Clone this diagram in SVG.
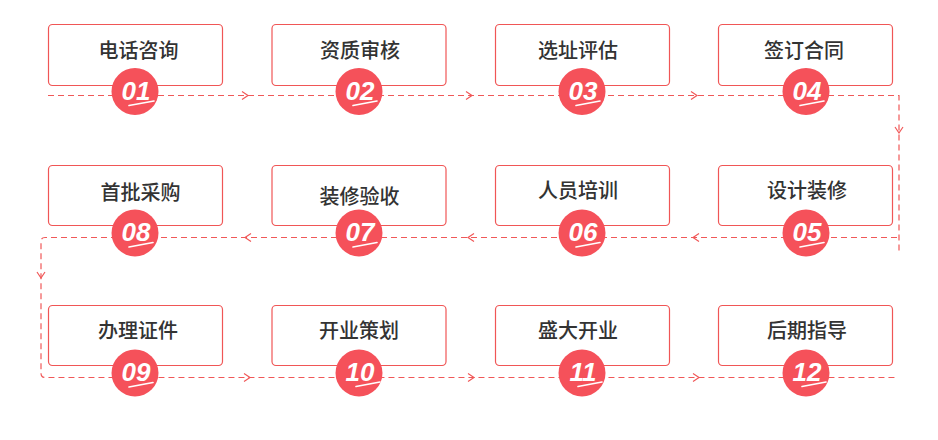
<svg xmlns="http://www.w3.org/2000/svg" width="938" height="440" viewBox="0 0 938 440">
<defs>
<style>
.box{fill:#fff;stroke:#F05656;stroke-width:1.2}
.lbl{font-family:"Noto Sans CJK SC","Noto Sans",sans-serif;font-size:20px;font-weight:500;fill:#333;text-anchor:middle}
.dot{fill:#F5515A}
.num{font-family:"Liberation Sans",Arial,sans-serif;font-size:26px;font-weight:bold;font-style:italic;fill:#fff;text-anchor:middle}
.ul{stroke:#fff;stroke-width:1.6;stroke-linecap:round}
.dash{fill:none;stroke:#F05858;stroke-width:1.2;stroke-dasharray:6 4}
.arr{fill:none;stroke:#F05858;stroke-width:1.2}
</style>
</defs>
<rect width="938" height="440" fill="#fff"/>
<g id="connectors">
<path class="dash" d="M48 95.5H899V252"/>
<path class="dash" d="M897 237.5H45Q41 237.5 41 241.5V373Q41 377.5 45 377.5H895"/>
<polyline class="arr" points="242,91.5 248,95.5 242,99.5"/>
<polyline class="arr" points="466,91.5 472,95.5 466,99.5"/>
<polyline class="arr" points="691,91.5 697,95.5 691,99.5"/>
<polyline class="arr" points="895,127 899,133 903,127"/>
<polyline class="arr" points="699,233.5 693,237.5 699,241.5"/>
<polyline class="arr" points="474,233.5 468,237.5 474,241.5"/>
<polyline class="arr" points="251,233.5 245,237.5 251,241.5"/>
<polyline class="arr" points="37,272 41,278 45,272"/>
<polyline class="arr" points="244,373.5 250,377.5 244,381.5"/>
<polyline class="arr" points="468,373.5 474,377.5 468,381.5"/>
<polyline class="arr" points="693,373.5 699,377.5 693,381.5"/>
</g>
<g id="n01"><rect class="box" x="48.5" y="24.5" width="174" height="61" rx="4"/><text class="lbl" x="138.5" y="57.5">电话咨询</text><circle class="dot" cx="135" cy="91.5" r="23.5"/><text class="num" x="136" y="99.5">01</text><line class="ul" x1="129" y1="105.5" x2="154" y2="101"/></g>
<g id="n02"><rect class="box" x="272" y="24.5" width="174" height="61" rx="4"/><text class="lbl" x="360" y="57.5">资质审核</text><circle class="dot" cx="359" cy="91.5" r="23.5"/><text class="num" x="360" y="99.5">02</text><line class="ul" x1="353" y1="105.5" x2="377" y2="101"/></g>
<g id="n03"><rect class="box" x="495.5" y="24.5" width="174" height="61" rx="4"/><text class="lbl" x="578" y="57.5">选址评估</text><circle class="dot" cx="582" cy="91.5" r="23.5"/><text class="num" x="583" y="99.5">03</text><line class="ul" x1="576" y1="105.5" x2="600" y2="101"/></g>
<g id="n04"><rect class="box" x="718.5" y="24.5" width="174" height="61" rx="4"/><text class="lbl" x="804" y="57.5">签订合同</text><circle class="dot" cx="806" cy="91.5" r="23.5"/><text class="num" x="807" y="99.5">04</text><line class="ul" x1="800" y1="105.5" x2="824" y2="101"/></g>
<g id="n05"><rect class="box" x="718.5" y="165.5" width="174" height="60" rx="4"/><text class="lbl" x="807" y="198">设计装修</text><circle class="dot" cx="806" cy="233" r="23.5"/><text class="num" x="807" y="241">05</text><line class="ul" x1="800" y1="247" x2="824" y2="242.5"/></g>
<g id="n06"><rect class="box" x="495.5" y="165.5" width="174" height="60" rx="4"/><text class="lbl" x="578" y="198">人员培训</text><circle class="dot" cx="582" cy="233" r="23.5"/><text class="num" x="583" y="241">06</text><line class="ul" x1="576" y1="247" x2="600" y2="242.5"/></g>
<g id="n07"><rect class="box" x="272" y="165.5" width="174" height="60" rx="4"/><text class="lbl" x="359.5" y="204">装修验收</text><circle class="dot" cx="359" cy="233" r="23.5"/><text class="num" x="360" y="241">07</text><line class="ul" x1="353" y1="247" x2="377" y2="242.5"/></g>
<g id="n08"><rect class="box" x="48.5" y="165.5" width="174" height="60" rx="4"/><text class="lbl" x="140.5" y="200">首批采购</text><circle class="dot" cx="135" cy="233" r="23.5"/><text class="num" x="136" y="241">08</text><line class="ul" x1="129" y1="247" x2="153" y2="242.5"/></g>
<g id="n09"><rect class="box" x="48.5" y="305.5" width="174" height="60" rx="4"/><text class="lbl" x="138" y="338">办理证件</text><circle class="dot" cx="135" cy="373" r="23.5"/><text class="num" x="136" y="381">09</text><line class="ul" x1="129" y1="387" x2="153" y2="382.5"/></g>
<g id="n10"><rect class="box" x="272" y="305.5" width="174" height="60" rx="4"/><text class="lbl" x="359" y="338">开业策划</text><circle class="dot" cx="359" cy="373" r="23.5"/><text class="num" x="360" y="381">10</text><line class="ul" x1="356" y1="386.5" x2="380" y2="382"/></g>
<g id="n11"><rect class="box" x="495.5" y="305.5" width="174" height="60" rx="4"/><text class="lbl" x="578" y="338">盛大开业</text><circle class="dot" cx="582" cy="373" r="23.5"/><text class="num" x="583" y="381">11</text><line class="ul" x1="578" y1="386.5" x2="602" y2="382"/></g>
<g id="n12"><rect class="box" x="718.5" y="305.5" width="174" height="60" rx="4"/><text class="lbl" x="807" y="338">后期指导</text><circle class="dot" cx="806" cy="373" r="23.5"/><text class="num" x="807" y="381">12</text><line class="ul" x1="802" y1="386.5" x2="826" y2="382"/></g>
</svg>
